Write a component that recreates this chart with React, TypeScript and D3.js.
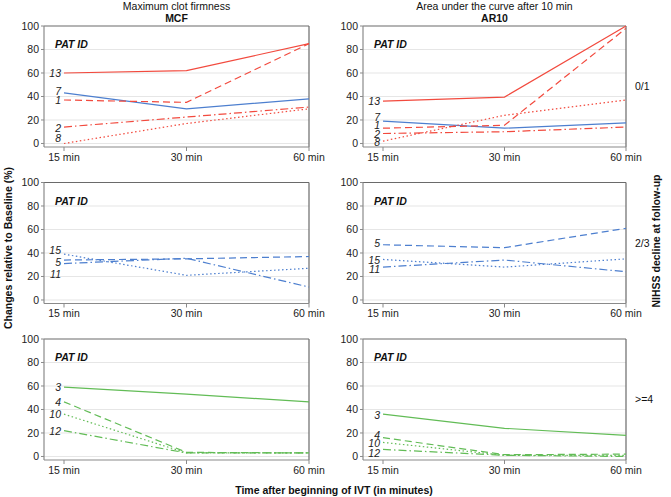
import React from "react";
import * as d3 from "d3";

// categories
const times = ["15 min", "30 min", "60 min"];
const groups = ["0/1", "2/3", ">=4"];
const measureTitles = ["Maximum clot firmness", "Area under the curve after 10 min"];
const measureAbbr = ["MCF", "AR10"];
const yTicks = [0, 20, 40, 60, 80, 100];

// patient ids per NIHSS group
const ids01 = ["13", "7", "1", "2", "8"];
const ids23 = ["15", "5", "11"];
const ids4 = ["3", "4", "10", "12"];

// values (% change relative to baseline) at 15/30/60 min
const mcf01 = [[60, 62, 85], [43, 29.5, 38], [37, 35, 85], [14, 22.5, 31], [0, 17, 29.5]];
const ar01 = [[36, 39.5, 100], [19, 13, 17.5], [13, 15.5, 98], [8.5, 10, 14], [2, 24, 37]];
const mcf23 = [[39, 21, 27], [34, 35, 37], [31, 35.5, 11]];
const ar23 = [[34.5, 28, 35], [47, 44.5, 61], [28, 34, 24]];
const mcf4 = [[59, 53, 46.5], [46.5, 3.5, 3], [36, 3, 3], [22, 3, 3]];
const ar4 = [[36, 24, 18], [16, 1.5, 2], [12, 1, 1], [6, 1, 0]];

// where the id labels sit (value axis)
const mcf01LabelAt = [60, 44, 36.5, 13, 4.5];
const ar01LabelAt = [35.7, 22.4, 15.3, 8.2, 0.8];
const mcf23LabelAt = [42, 32, 22];
const ar23LabelAt = [34, 48, 26.5];
const mcf4LabelAt = [58.5, 46, 36, 21.5];
const ar4LabelAt = [35, 18, 11, 3];

const RED = "#f24a3e";
const BLUE = "#4d7fcf";
const GREEN = "#62bc56";
const SOLID = "none";
const DASH = "7,4";
const DOT = "1.5,2.5";
const DASHDOT = "8,3,1.5,3";

const style: Record<string, { color: string; dash: string }> = {
  "13": { color: RED, dash: SOLID },
  "7": { color: BLUE, dash: SOLID },
  "1": { color: RED, dash: DASH },
  "2": { color: RED, dash: DASHDOT },
  "8": { color: RED, dash: DOT },
  "15": { color: BLUE, dash: DOT },
  "5": { color: BLUE, dash: DASH },
  "11": { color: BLUE, dash: DASHDOT },
  "3": { color: GREEN, dash: SOLID },
  "4": { color: GREEN, dash: DASH },
  "10": { color: GREEN, dash: DOT },
  "12": { color: GREEN, dash: DASHDOT },
};

const panels = [
  [
    { ids: ids01, values: mcf01, labels: mcf01LabelAt },
    { ids: ids01, values: ar01, labels: ar01LabelAt },
  ],
  [
    { ids: ids23, values: mcf23, labels: mcf23LabelAt },
    { ids: ids23, values: ar23, labels: ar23LabelAt },
  ],
  [
    { ids: ids4, values: mcf4, labels: mcf4LabelAt },
    { ids: ids4, values: ar4, labels: ar4LabelAt },
  ],
];

const W = 671;
const H = 497;
const FONT = "'Liberation Sans', Arial, sans-serif";
const FS = 10.5;
const colX = [
  [44, 309],
  [363, 626],
];
const rowTop = [26, 182.5, 339];
const rowH = 121;

function Panel({ col, row, ids, values, labels }: any) {
  const [x0, x1] = colX[col];
  const top = rowTop[row];
  const bottom = top + rowH;
  const x = d3.scalePoint<string>().domain(times).range([x0 + 20, x1]);
  const y = d3.scaleLinear().domain([-3, 100]).range([bottom, top]);
  const line = d3
    .line<number>()
    .x((_, i) => x(times[i]) as number)
    .y((d) => y(d));
  const xFirst = x(times[0]) as number;

  return (
    <g>
      {yTicks
        .filter((t) => t < 100)
        .map((t) => (
          <line key={t} x1={x0} x2={x1} y1={y(t)} y2={y(t)} stroke="#e6e6e6" strokeWidth={1.2} />
        ))}
      {/* frame */}
      <line x1={x0} x2={x1} y1={top} y2={top} stroke="#6a6a6a" strokeWidth={1.2} />
      <line x1={x1} x2={x1} y1={top} y2={bottom} stroke="#6a6a6a" strokeWidth={1.2} />
      <line x1={x0} x2={x0} y1={top} y2={bottom} stroke="#8a8a8a" strokeWidth={1.2} />
      <line x1={x0} x2={x1} y1={bottom} y2={bottom} stroke="#8a8a8a" strokeWidth={1.2} />
      {yTicks.map((t) => (
        <g key={t}>
          <line x1={x0 - 3} x2={x0} y1={y(t)} y2={y(t)} stroke="#8a8a8a" />
          <text x={x0 - 5} y={y(t)} dy="0.35em" textAnchor="end" fontSize={FS} fill="#222">
            {t}
          </text>
        </g>
      ))}
      {times.map((t) => (
        <g key={t}>
          <line x1={x(t)} x2={x(t)} y1={bottom} y2={bottom + 4} stroke="#8a8a8a" />
          <text x={x(t)} y={bottom + 13.5} textAnchor="middle" fontSize={FS} fill="#222">
            {t}
          </text>
        </g>
      ))}
      <text x={x0 + 11} y={y(84)} dy="0.35em" fontSize={FS} fontWeight="bold" fontStyle="italic" fill="#111">
        PAT ID
      </text>
      {ids.map((id: string, i: number) => (
        <path
          key={id}
          d={line(values[i]) as string}
          fill="none"
          stroke={style[id].color}
          strokeWidth={1.2}
          strokeDasharray={style[id].dash}
        />
      ))}
      {ids.map((id: string, i: number) => (
        <text key={id} x={xFirst - 3} y={y(labels[i])} dy="0.35em" textAnchor="end" fontSize={FS} fontStyle="italic" fill="#222">
          {id}
        </text>
      ))}
    </g>
  );
}

export default function App() {
  return (
    <div style={{ position: "absolute", left: 0, top: 0 }}>
      <svg width={W} height={H} style={{ display: "block", fontFamily: FONT }}>
        <rect width={W} height={H} fill="#fff" />
        {measureTitles.map((t, c) => {
          const cx = (colX[c][0] + colX[c][1]) / 2;
          return (
            <g key={t}>
              <text x={cx} y={9.5} textAnchor="middle" fontSize={FS} fill="#111">
                {t}
              </text>
              <text x={cx} y={22} textAnchor="middle" fontSize={FS} fontWeight="bold" fill="#111">
                {measureAbbr[c]}
              </text>
            </g>
          );
        })}
        {panels.map((row, r) =>
          row.map((p, c) => <Panel key={`${r}-${c}`} col={c} row={r} {...p} />)
        )}
        {groups.map((g, r) => (
          <text key={g} x={635} y={rowTop[r] + rowH / 2} dy="0.35em" fontSize={FS} fill="#111">
            {g}
          </text>
        ))}
        <text
          transform={`translate(12,248) rotate(-90)`}
          textAnchor="middle"
          fontSize={FS}
          fontWeight="bold"
          fill="#111"
        >
          Changes relative to Baseline (%)
        </text>
        <text
          transform={`translate(660,241) rotate(-90)`}
          textAnchor="middle"
          fontSize={FS}
          fontWeight="bold"
          fill="#111"
        >
          NIHSS decline at follow-up
        </text>
        <text x={334} y={494} textAnchor="middle" fontSize={FS} fontWeight="bold" fill="#111">
          Time after beginning of IVT (in minutes)
        </text>
      </svg>
    </div>
  );
}
